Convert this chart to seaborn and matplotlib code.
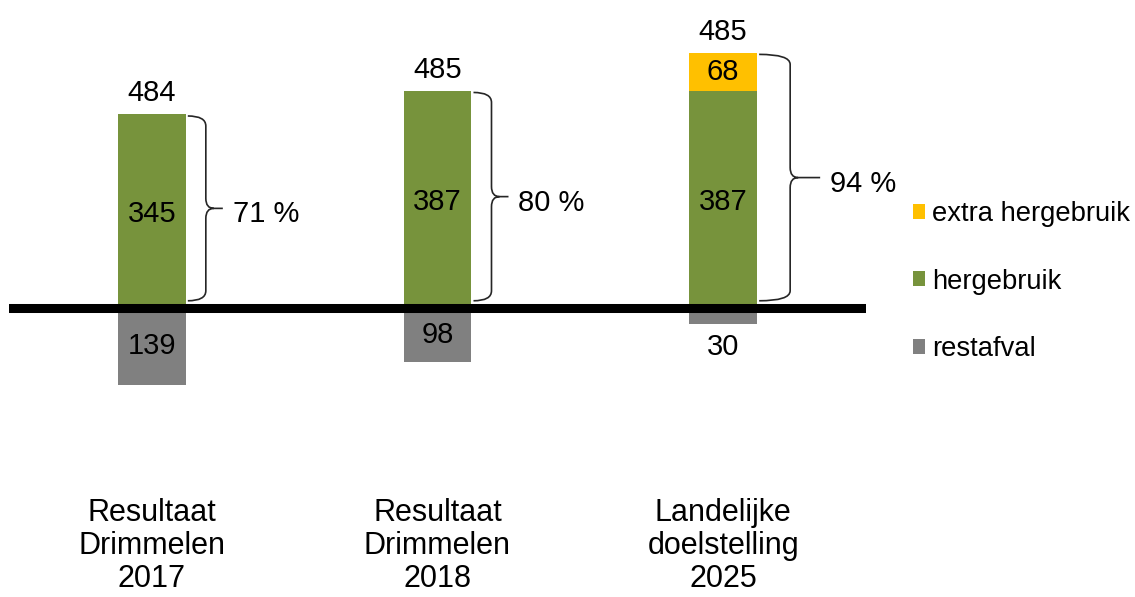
import numpy as np
import pandas as pd
import matplotlib
matplotlib.use("Agg")
import matplotlib.pyplot as plt
from matplotlib.path import Path
from matplotlib.patches import PathPatch, Patch
import seaborn as sns

# ---- data ----
categories = ["Resultaat\nDrimmelen\n2017", "Resultaat\nDrimmelen\n2018", "Landelijke\ndoelstelling\n2025"]
hergebruik = [345, 387, 387]
extra_hergebruik = [0, 0, 68]
restafval = [139, 98, 30]
totaal = [484, 485, 485]
percentages = [71, 80, 94]
legend_labels = ["extra hergebruik", "hergebruik", "restafval"]

# ---- style ----
C_GREEN = "#77933C"
C_ORANGE = "#FFC000"
C_GREY = "#808080"

sns.set_theme(style="white")
plt.rcParams["font.family"] = ["Liberation Sans", "DejaVu Sans"]
plt.rcParams["text.color"] = "black"
plt.rcParams["xtick.color"] = "black"

W, H = 1135, 597
fig = plt.figure(figsize=(W / 100, H / 100), dpi=100)
ax_left_px, ax_right_px = 9, 866
ax_top_px, ax_bot_px = 0, 470
ax = fig.add_axes([ax_left_px / W, 1 - ax_bot_px / H,
                   (ax_right_px - ax_left_px) / W, (ax_bot_px - ax_top_px) / H])

zero_px = 307.5
py = 0.56  # px per unit
ylim = (-(ax_bot_px - zero_px) / py, (zero_px - ax_top_px) / py)
xlim = (-0.5, 2.5)

df = pd.DataFrame({
    "cat": categories,
    "total_reuse": np.array(hergebruik) + np.array(extra_hergebruik),
    "hergebruik": hergebruik,
    "rest": -np.array(restafval),
})

bw = 0.238
sns.barplot(data=df, x="cat", y="total_reuse", color=C_ORANGE, width=bw, ax=ax,
            saturation=1, linewidth=0, zorder=2)
sns.barplot(data=df, x="cat", y="hergebruik", color=C_GREEN, width=bw, ax=ax,
            saturation=1, linewidth=0, zorder=2)
sns.barplot(data=df, x="cat", y="rest", color=C_GREY, width=bw, ax=ax,
            saturation=1, linewidth=0, zorder=2)

ax.set_xlim(*xlim)
ax.set_ylim(*ylim)
ax.axhline(0, color="black", lw=6.5, zorder=4)
for s in ax.spines.values():
    s.set_visible(False)
ax.set_yticks([])
ax.set_ylabel("")
ax.set_xlabel("")
ax.set_xticks(range(len(categories)))
ax.set_xticklabels(categories, fontsize=22, linespacing=1.14, color="black")
ax.tick_params(axis="x", length=0, pad=20)

# px -> data conversions
sx = (xlim[1] - xlim[0]) / (ax_right_px - ax_left_px)
sy = (ylim[1] - ylim[0]) / (ax_bot_px - ax_top_px)

FS = 21
dy = -3 * sy  # small downward nudge for inside labels
for i in range(len(categories)):
    g = hergebruik[i]
    e = extra_hergebruik[i]
    r = restafval[i]
    ax.text(i, g / 2 + dy, str(g), ha="center", va="center", fontsize=FS, color="black", zorder=5)
    if e > 0:
        ax.text(i, g + e / 2, str(e), ha="center", va="center", fontsize=FS, color="black", zorder=5)
    if r >= 50:
        ax.text(i, -r / 2, str(r), ha="center", va="center", fontsize=FS, color="black", zorder=5)
    else:
        ax.annotate(str(r), (i, -r), xytext=(0, -6), textcoords="offset points",
                    ha="center", va="top", fontsize=FS, color="black", zorder=5)
    ax.annotate(str(totaal[i]), (i, g + e), xytext=(0, 9.5), textcoords="offset points",
                ha="center", va="baseline", fontsize=FS, color="black", zorder=5)

# braces
brace_w_px = [20, 20, 33]
tip_px = [17, 17, 30]
for i in range(len(categories)):
    top = hergebruik[i] + extra_hergebruik[i] - 3
    bot = 12
    x0 = i + bw / 2 + 2 * sx
    xv = i + bw / 2 + brace_w_px[i] * sx
    ym = (top + bot) / 2
    rr = 10 * sy
    c = 8 * sx
    xt = xv + tip_px[i] * sx
    verts = [(x0, top), (xv, top), (xv, top - rr),
             (xv, ym + rr), (xv, ym), (xv + c, ym),
             (xt, ym),
             (xv + c, ym), (xv, ym), (xv, ym - rr),
             (xv, bot + rr), (xv, bot), (x0, bot)]
    codes = [Path.MOVETO, Path.CURVE3, Path.CURVE3,
             Path.LINETO, Path.CURVE3, Path.CURVE3,
             Path.LINETO,
             Path.MOVETO, Path.CURVE3, Path.CURVE3,
             Path.LINETO, Path.CURVE3, Path.CURVE3]
    ax.add_patch(PathPatch(Path(verts, codes), fill=False, ec="#262626", lw=1.2, zorder=3))
    ax.text(xt + 10 * sx, ym - 3 * sy, f"{percentages[i]} %", ha="left", va="center_baseline",
            fontsize=FS, color="black")

handles = [Patch(facecolor=C_ORANGE, edgecolor="none"),
           Patch(facecolor=C_GREEN, edgecolor="none"),
           Patch(facecolor=C_GREY, edgecolor="none")]
fig.legend(handles, legend_labels, loc="upper left",
           bbox_to_anchor=(912.5 / W, 1 - 201 / H), frameon=False,
           fontsize=19.7, handlelength=0.475, handleheight=0.475,
           handletextpad=0.25, labelspacing=1.52, borderpad=0, borderaxespad=0,
           labelcolor="black")

fig.savefig("out.png", dpi=100)
